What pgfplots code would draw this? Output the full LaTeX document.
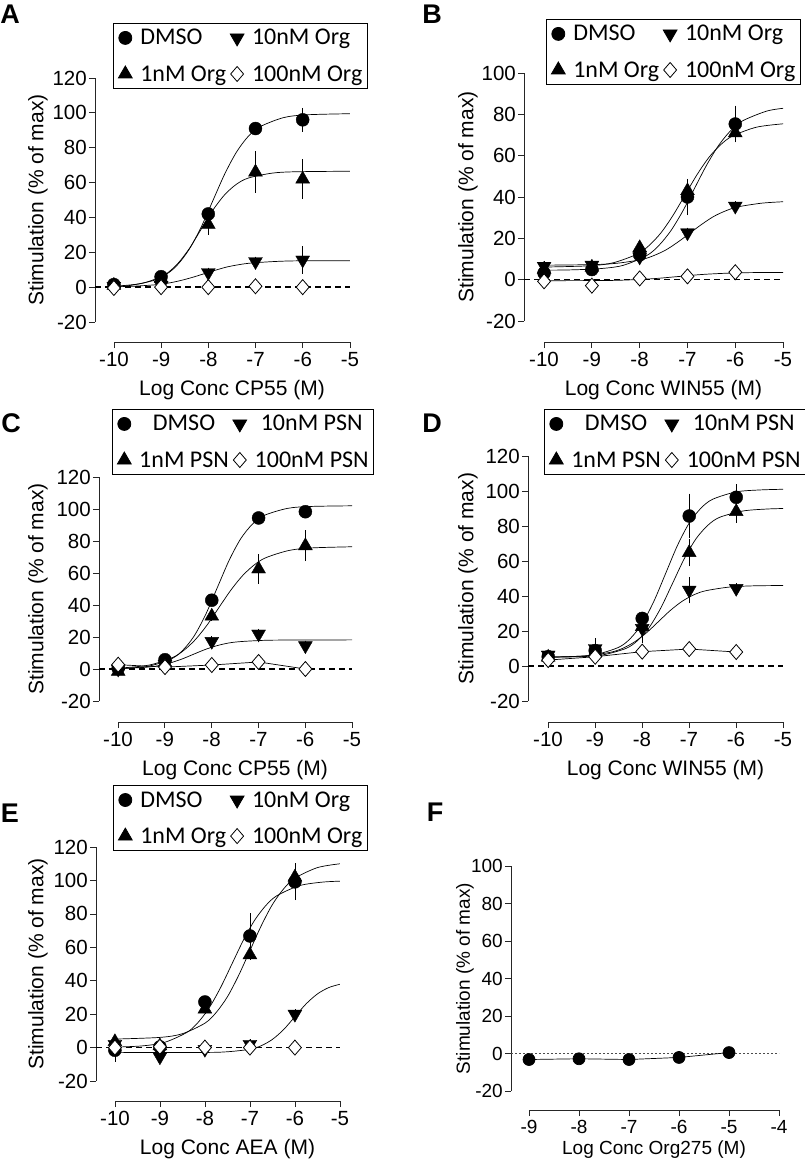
\documentclass[border=0pt]{standalone}
\usepackage{fontspec}
\setmainfont{Liberation Sans}
\newfontfamily\legfont{Carlito}
\usepackage{pgfplots}
\pgfplotsset{compat=1.18}

\newcommand\tickfont{\fontsize{20.5}{22}\selectfont}
\newcommand\labfont{\fontsize{21}{24}\selectfont}
\newcommand\legtext{\legfont\fontsize{24}{26}\selectfont}

\pgfplotsset{
  yax/.style={anchor=south west, clip=false,
    axis y line=left, axis x line=none,
    axis line style={-, black!85, line width=0.8pt},
    tick align=outside, major tick length=6pt,
    tick style={black!85, line width=0.8pt},
    yticklabel style={font=\tickfont, inner sep=2pt},
    /pgf/number format/assume math mode=true,
    ylabel={Stimulation (\% of max)},
    ylabel style={font=\labfont, anchor=center},
    legend columns=2, legend cell align=left,
    legend style={anchor=north west, draw=black, line width=0.8pt, font=\legtext,
      inner xsep=5pt, inner ysep=6pt, row sep=19pt,
      nodes={inner sep=0pt},
      /tikz/every odd column/.append style={column sep=8pt},
      /tikz/every even column/.append style={column sep=4pt}},
    legend image code/.code={\draw[mark repeat=1,##1] plot coordinates {(0pt,0pt)};},
  },
  xax/.style={anchor=south west,
    axis x line=bottom, axis y line=none,
    axis line style={-, black!85, line width=0.8pt},
    tick align=outside, major tick length=6pt,
    tick style={black!85, line width=0.8pt},
    xticklabel style={font=\tickfont, inner sep=4pt},
    /pgf/number format/assume math mode=true,
    ymin=0, ymax=1, y=1pt, xtick distance=1,
    xlabel style={font=\labfont, at={(axis description cs:0.5,0)}, anchor=center, yshift=-48pt},
  },
  zero/.style={black, line width=1.3pt, dash pattern=on 6pt off 4pt, forget plot},
  cv/.style={black, line width=0.7pt, smooth, no markers, forget plot},
  seg/.style={black, line width=0.7pt, no markers, forget plot},
  pbase/.style={only marks, black,
    error bars/y dir=both, error bars/y explicit,
    error bars/error bar style={line width=0.8pt, black},
    error bars/error mark options={mark size=5pt, line width=0.8pt, black}},
  dm/.style={pbase, mark=*, mark size=6.5pt},
  tu/.style={pbase, mark=triangle*, mark size=8pt},
  td/.style={pbase, mark=triangle*, mark size=8pt, mark options={rotate=180}},
  dia/.style={pbase, mark=diamond*, mark size=7.5pt, mark options={fill=white, draw=black, line width=0.8pt, xscale=1.15}},
}

\begin{document}
\begin{tikzpicture}
\useasboundingbox (0,0) rectangle (805pt,-1162pt);

% ---------------- A ----------------
\node[font=\bfseries\fontsize{27}{27}\selectfont] at (10pt,-14pt) {A};
\begin{axis}[yax, at={(95pt,-322pt)}, x=47.2pt, y=1.743pt,
  xmin=-10.40, xmax=-5, ymin=-20, ymax=120, ytick={-20,0,...,120},
  ylabel style={at={(axis description cs:-0.2236,0.5)}},
  legend style={at={(0.0706,1.2254)}}]
\addplot[zero] coordinates {(-10.4,0) (-5,0)};
\addplot[cv] coordinates {(-10,0.5) (-9.4,2.2) (-8.9,7.3) (-8.65,12.9) (-8.4,21.9) (-8.15,34.5) (-7.9,49.8) (-7.65,65.0) (-7.4,77.6) (-7.15,86.6) (-6.9,92.1) (-6.4,97.3) (-5.9,98.9) (-5,99.5)};
\addplot[cv] coordinates {(-10,0.4) (-9.65,1.0) (-9.15,3.9) (-8.9,7.4) (-8.65,13.4) (-8.4,22.2) (-8.15,33.3) (-7.9,44.3) (-7.65,53.1) (-7.4,59.1) (-7.15,62.6) (-6.65,65.4) (-6.15,66.2) (-5,66.5)};
\addplot[cv] coordinates {(-10,0.2) (-9.6,0.5) (-9.1,1.4) (-8.85,2.3) (-8.6,3.7) (-8.35,5.5) (-8.1,7.6) (-7.85,9.7) (-7.6,11.6) (-7.35,12.9) (-7.1,13.8) (-6.6,14.7) (-6.1,15.1) (-5,15.2)};
\addplot[dm] table[y error index=2] {
x y e
-10 1.5 0
-9 6 0
-8 42 0
-7 91 0
-6 96 4
};
\addlegendentry{DMSO}
\addplot[td] table[y error index=2] {
x y e
-10 0.5 0
-9 1 0
-8 8.4 0
-7 14.7 0
-6 15.6 5
};
\addlegendentry{10nM Org}
\addplot[tu] table[y error index=2] {
x y e
-10 1 0
-9 5 0
-8 36 3
-7 66 9
-6 62 8.5
};
\addlegendentry{1nM Org}
\addplot[dia] table[y error index=2] {
x y e
-10 -0.5 0
-9 0 0
-8 0 0
-7 0.5 0
-6 0 0
};
\addlegendentry{100nM Org}
\end{axis}
\begin{axis}[xax, at={(114pt,-342pt)}, x=47.2pt, xmin=-10, xmax=-5,
  xlabel={Log Conc CP55 (M)}]
\end{axis}

% ---------------- B ----------------
\node[font=\bfseries\fontsize{27}{27}\selectfont] at (432pt,-14pt) {B};
\begin{axis}[yax, at={(524pt,-321pt)}, x=47.8pt, y=2.067pt,
  xmin=-10.42, xmax=-5, ymin=-20, ymax=100, ytick={-20,0,...,100},
  ylabel style={at={(axis description cs:-0.2161,0.5)}},
  legend style={at={(0.0849,1.2177)}}]
\addplot[zero] coordinates {(-10.42,0) (-5,0)};
\addplot[cv] coordinates {(-10,4.6) (-9.5,4.7) (-8.85,5.3) (-8.35,6.9) (-7.85,11.7) (-7.6,16.5) (-7.35,23.6) (-7.1,33.1) (-6.85,44.3) (-6.6,55.4) (-6.35,64.9) (-6.1,72.0) (-5.85,76.8) (-5.35,81.5) (-5,82.9)};
\addplot[cv] coordinates {(-10,6.1) (-9.05,6.7) (-8.55,8.2) (-8.05,12.4) (-7.8,16.6) (-7.55,22.8) (-7.3,31.2) (-7.05,41.0) (-6.8,50.8) (-6.55,59.2) (-6.3,65.4) (-6.05,69.6) (-5.55,73.8) (-5,75.4)};
\addplot[cv] coordinates {(-10,7.0) (-8.95,7.3) (-8.45,8.0) (-7.95,9.8) (-7.7,11.7) (-7.45,14.4) (-7.2,18.2) (-6.95,22.5) (-6.7,26.8) (-6.45,30.6) (-6.2,33.3) (-5.95,35.2) (-5.45,37.0) (-5,37.7)};
\addplot[cv] coordinates {(-10,-0.5) (-8.7,-0.4) (-8.2,-0.1) (-7.7,0.5) (-7.2,1.5) (-6.7,2.5) (-6.2,3.1) (-5.7,3.4) (-5,3.5)};
\addplot[dm] table[y error index=2] {
x y e
-10 3.2 0
-9 4.9 0
-8 12 0
-7 40 6.4
-6 75.3 6.5
};
\addlegendentry{DMSO}
\addplot[td] table[y error index=2] {
x y e
-10 6.5 0
-9 7 0
-8 11 0
-7 22.7 0
-6 35.6 0
};
\addlegendentry{10nM Org}
\addplot[tu] table[y error index=2] {
x y e
-10 5 0
-9 6 0
-8 15.4 0
-7 43 0
-6 71 0
};
\addlegendentry{1nM Org}
\addplot[dia] table[y error index=2] {
x y e
-10 -0.8 0
-9 -2.9 0
-8 0.6 0
-7 1.6 0
-6 3.6 0
};
\addlegendentry{100nM Org}
\end{axis}
\begin{axis}[xax, at={(544pt,-342pt)}, x=47.8pt, xmin=-10, xmax=-5,
  xlabel={Log Conc WIN55 (M)}]
\end{axis}

% ---------------- C ----------------
\node[font=\bfseries\fontsize{27}{27}\selectfont] at (11pt,-423pt) {C};
\begin{axis}[yax, at={(99pt,-701pt)}, x=46.8pt, y=1.6pt,
  xmin=-10.41, xmax=-5, ymin=-20, ymax=120, ytick={-20,0,...,120},
  ylabel style={at={(axis description cs:-0.2409,0.5)}},
  legend cell align=center,
  legend style={at={(0.0513,1.3036)}}]
\addplot[zero] coordinates {(-10.41,0) (-5,0)};
\addplot[cv] coordinates {(-10,0.3) (-9.38,1.6) (-8.88,6.1) (-8.63,11.4) (-8.38,20.5) (-8.13,34.1) (-7.88,51.0) (-7.63,67.9) (-7.38,81.5) (-7.13,90.6) (-6.88,96.0) (-6.38,100.4) (-5.88,101.6) (-5,102)};
\addplot[cv] coordinates {(-10,0.5) (-9.35,2.4) (-8.85,7.0) (-8.6,11.6) (-8.35,18.4) (-8.1,27.5) (-7.85,38.3) (-7.6,49.0) (-7.35,58.1) (-7.1,64.9) (-6.85,69.5) (-6.35,74.1) (-5.85,75.7) (-5,76.4)};
\addplot[cv] coordinates {(-10,0.2) (-9.4,1.1) (-9.15,2.0) (-8.9,3.7) (-8.65,6.1) (-8.4,9.1) (-8.15,12.1) (-7.9,14.5) (-7.65,16.2) (-7.4,17.1) (-6.9,17.9) (-6.4,18.1) (-5,18.2)};
\addplot[seg] coordinates {(-10,2.7) (-9,1.2) (-8,2.5) (-7,4.4) (-6,0)};
\addplot[dm] table[y error index=2] {
x y e
-10 0.5 0
-9 5.8 0
-8 43 0
-7 94.4 0
-6 98.3 0
};
\addlegendentry{DMSO}
\addplot[td] table[y error index=2] {
x y e
-10 0 0
-9 3 0
-8 17.3 0
-7 21.9 0
-6 14.6 0
};
\addlegendentry{10nM PSN}
\addplot[tu] table[y error index=2] {
x y e
-10 -1.5 0
-9 4 0
-8 33 0
-7 62.5 6
-6 77 6.5
};
\addlegendentry{1nM PSN}
\addplot[dia] table[y error index=2] {
x y e
-10 2.7 0
-9 1.2 0
-8 2.5 0
-7 4.4 0
-6 0 0
};
\addlegendentry{100nM PSN}
\end{axis}
\begin{axis}[xax, at={(118pt,-722pt)}, x=46.8pt, xmin=-10, xmax=-5,
  xlabel={Log Conc CP55 (M)}]
\end{axis}

% ---------------- D ----------------
\node[font=\bfseries\fontsize{27}{27}\selectfont] at (432pt,-423pt) {D};
\begin{axis}[yax, at={(528pt,-701pt)}, x=47pt, y=1.75pt,
  xmin=-10.43, xmax=-5, ymin=-20, ymax=120, ytick={-20,0,...,120},
  ylabel style={at={(axis description cs:-0.2351,0.5)}},
  legend cell align=center,
  legend style={at={(0.0627,1.1918)}}]
\addplot[zero] coordinates {(-10.43,0) (-5,0)};
\addplot[cv] coordinates {(-10,5.1) (-9.5,5.4) (-9,6.5) (-8.5,10.7) (-8.25,15.8) (-8,24.3) (-7.75,37.1) (-7.5,53.0) (-7.25,68.9) (-7,81.7) (-6.75,90.2) (-6.5,95.3) (-6,99.5) (-5.5,100.6) (-5,101)};
\addplot[cv] coordinates {(-10,5.1) (-9.35,5.3) (-8.85,6.3) (-8.35,10.0) (-8.1,14.5) (-7.85,22.1) (-7.6,33.4) (-7.35,47.5) (-7.1,61.6) (-6.85,72.9) (-6.6,80.5) (-6.35,85.0) (-5.85,88.6) (-5.35,89.7) (-5,90)};
\addplot[cv] coordinates {(-10,5.1) (-9.65,5.3) (-9.15,5.9) (-8.65,8.0) (-8.4,10.3) (-8.15,14.0) (-7.9,19.2) (-7.65,25.5) (-7.4,31.8) (-7.15,37.0) (-6.9,40.7) (-6.65,43.0) (-6.15,45.1) (-5.65,45.8) (-5,46)};
\addplot[seg] coordinates {(-10,3.4) (-9,5.3) (-8,8.2) (-7,9.7) (-6,8)};
\addplot[dm] table[y error index=2] {
x y e
-10 5.3 0
-9 8.8 0
-8 27.2 0
-7 85.7 9.9
-6 96.4 4.6
};
\addlegendentry{DMSO}
\addplot[td] table[y error index=2] {
x y e
-10 6.3 0
-9 10 3
-8 21.5 5.7
-7 43.4 4.7
-6 44.4 0
};
\addlegendentry{10nM PSN}
\addplot[tu] table[y error index=2] {
x y e
-10 5 0
-9 8 0
-8 22.5 0
-7 64.8 5
-6 88.2 3.5
};
\addlegendentry{1nM PSN}
\addplot[dia] table[y error index=2] {
x y e
-10 3.4 0
-9 5.3 0
-8 8.2 0
-7 9.7 0
-6 8 0
};
\addlegendentry{100nM PSN}
\end{axis}
\begin{axis}[xax, at={(548pt,-722pt)}, x=47pt, xmin=-10, xmax=-5,
  xlabel={Log Conc WIN55 (M)}]
\end{axis}

% ---------------- E ----------------
\node[font=\bfseries\fontsize{27}{27}\selectfont] at (10pt,-813pt) {E};
\begin{axis}[yax, at={(96pt,-1081pt)}, x=45pt, y=1.671pt,
  xmin=-10.42, xmax=-5, ymin=-20, ymax=120, ytick={-20,0,...,120},
  ylabel style={at={(axis description cs:-0.2378,0.5)}},
  legend style={at={(0.0697,1.2650)}}]
\addplot[zero] coordinates {(-10.42,0) (-5,0)};
\addplot[cv] coordinates {(-10,0.3) (-9.4,1.0) (-8.9,3.1) (-8.4,9.1) (-8.15,15.1) (-7.9,24.0) (-7.65,36.0) (-7.4,50.0) (-7.15,64.0) (-6.9,76.0) (-6.65,84.9) (-6.4,90.9) (-5.9,96.9) (-5.4,99.0) (-5,99.6)};
\addplot[cv] coordinates {(-10,5.1) (-9,6.1) (-8.5,8.3) (-8,14.6) (-7.75,21.0) (-7.5,30.4) (-7.25,43.2) (-7,58.0) (-6.75,72.8) (-6.5,85.6) (-6.25,95.0) (-6,101.4) (-5.5,107.7) (-5,110.0)};
\addplot[cv] coordinates {(-10,-3) (-8,-2.9) (-7.5,-2.5) (-7,-1.0) (-6.75,1.1) (-6.5,4.9) (-6.25,10.8) (-6,18.5) (-5.75,26.2) (-5.5,32.1) (-5.25,35.9) (-5,37.9)};
\addplot[dm] table[y error index=2] {
x y e
-10 -1.6 4
-9 0.4 0
-8 27.3 0
-7 66.8 10.5
-6 99.2 8
};
\addlegendentry{DMSO}
\addplot[td] table[y error index=2] {
x y e
-10 2 0
-9 -5.5 0
-8 -1 0
-7 2 0
-6 20 0
};
\addlegendentry{10nM Org}
\addplot[tu] table[y error index=2] {
x y e
-10 3.5 0
-9 1 0
-8 23 0
-7 55.5 0
-6 102 0
};
\addlegendentry{1nM Org}
\addplot[dia] table[y error index=2] {
x y e
-10 0 0
-9 0.5 0
-8 0 0
-7 0 0
-6 0 0
};
\addlegendentry{100nM Org}
\end{axis}
\begin{axis}[xax, at={(115pt,-1101pt)}, x=45pt, xmin=-10, xmax=-5,
  xlabel={Log Conc AEA (M)}]
\end{axis}

% ---------------- F ----------------
\node[font=\bfseries\fontsize{27}{27}\selectfont] at (435pt,-812pt) {F};
\begin{axis}[yax, at={(511pt,-1091pt)}, x=50pt, y=1.875pt,
  xmin=-9.36, xmax=-4, ymin=-20, ymax=100, ytick={-20,0,...,100},
  yticklabel style={font=\fontsize{19}{21}\selectfont},
  ylabel style={font=\fontsize{19}{22}\selectfont, at={(axis description cs:-0.1716,0.5)}}]
\addplot[black!70, line width=0.6pt, dash pattern=on 2pt off 2pt, forget plot] coordinates {(-9.36,0) (-4,0)};
\addplot[black, line width=0.7pt, mark=*, mark size=6pt] coordinates {(-9,-3.2) (-8,-2.8) (-7,-3.2) (-6,-2.1) (-5,0.5)};
\end{axis}
\begin{axis}[xax, at={(529pt,-1110pt)}, x=50pt, xmin=-9, xmax=-4,
  xticklabel style={font=\fontsize{19}{21}\selectfont},
  xlabel style={font=\fontsize{19}{22}\selectfont, yshift=8pt},
  xlabel={Log Conc Org275 (M)}]
\end{axis}
\end{tikzpicture}
\end{document}
